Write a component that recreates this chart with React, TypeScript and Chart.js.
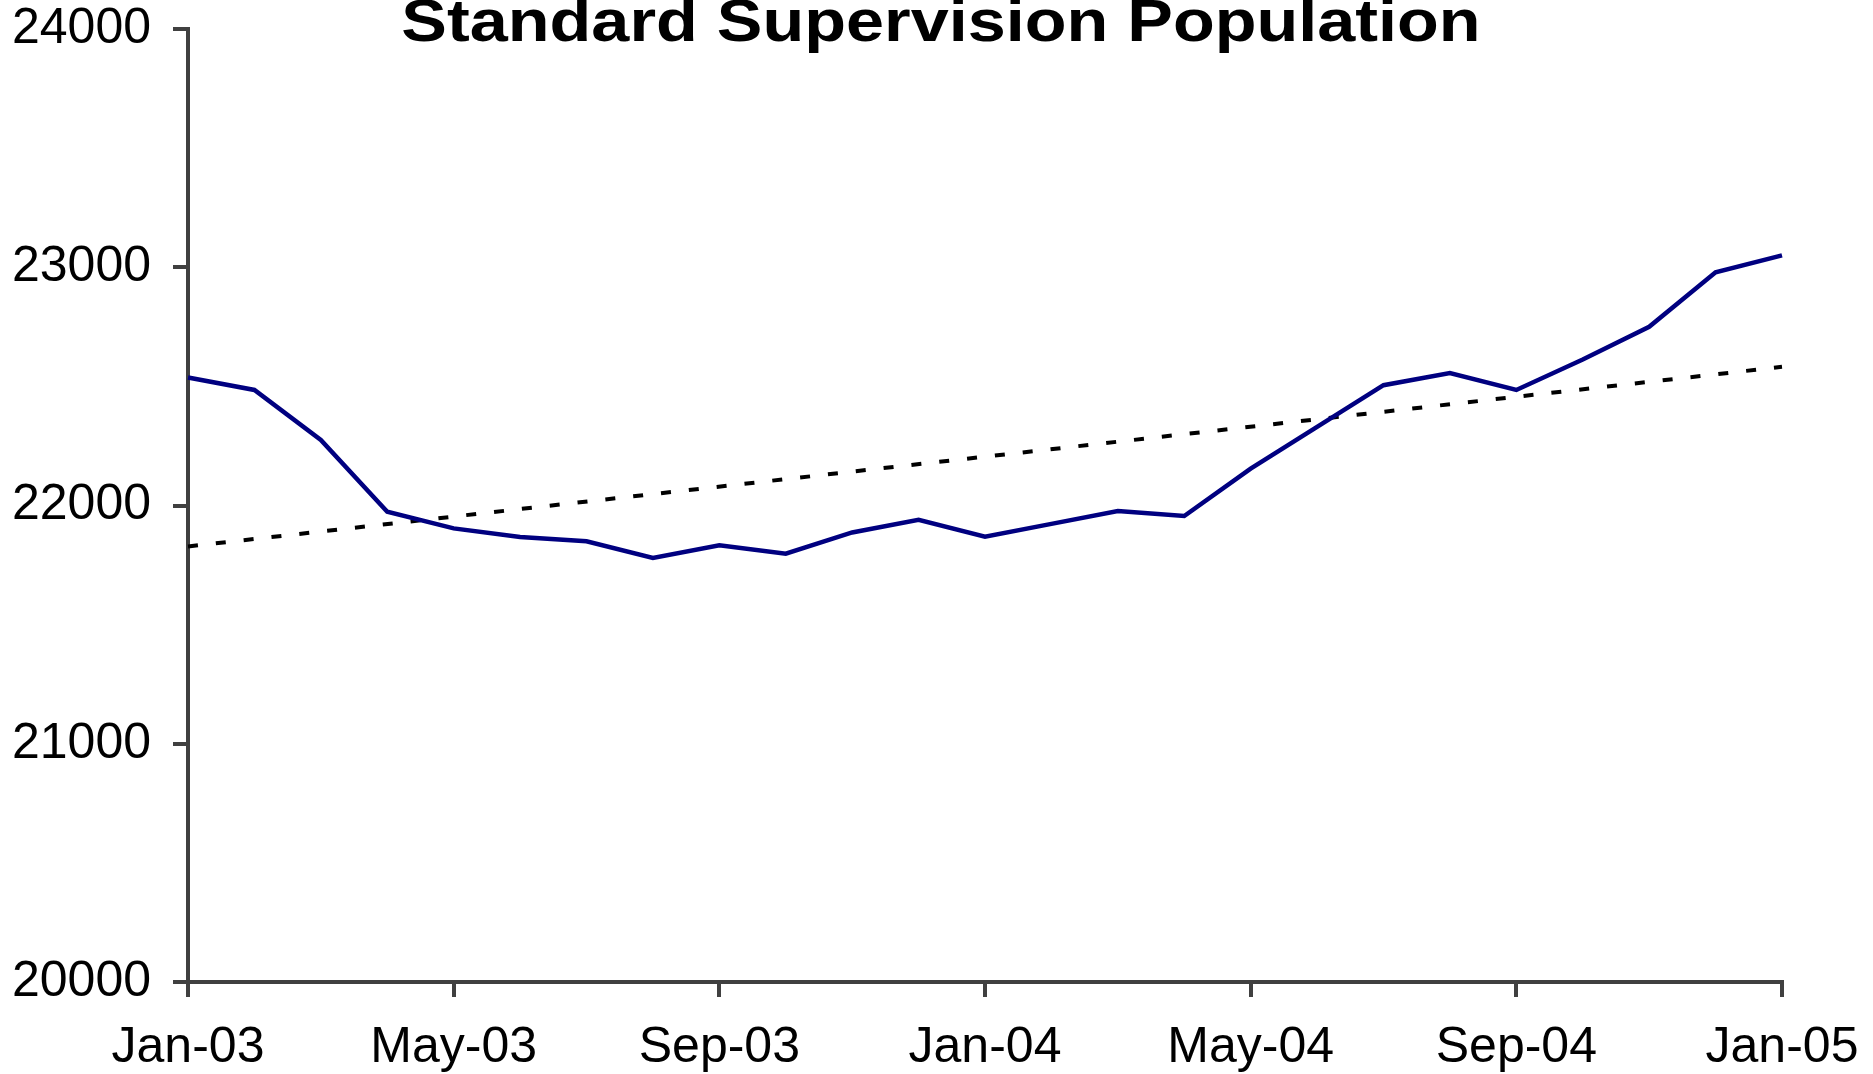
import React, { useEffect, useRef } from 'react';
import { Chart, registerables } from 'chart.js';

Chart.register(...registerables);

const titleText = 'Standard Supervision Population';

const months = [
  'Jan-03', 'Feb-03', 'Mar-03', 'Apr-03', 'May-03', 'Jun-03', 'Jul-03', 'Aug-03', 'Sep-03', 'Oct-03', 'Nov-03', 'Dec-03',
  'Jan-04', 'Feb-04', 'Mar-04', 'Apr-04', 'May-04', 'Jun-04', 'Jul-04', 'Aug-04', 'Sep-04', 'Oct-04', 'Nov-04', 'Dec-04',
  'Jan-05',
];

const population = [
  22537, 22485, 22275, 21974, 21904, 21868, 21850, 21780, 21833, 21798, 21887, 21940,
  21869, 21923, 21977, 21956, 22155, 22330, 22505, 22556, 22485, 22613, 22750, 22979,
  23050,
];

// Linear trend line: value at first and last month
const trendEndpoints = [21828, 22582];

const xTickLabels = ['Jan-03', 'May-03', 'Sep-03', 'Jan-04', 'May-04', 'Sep-04', 'Jan-05'];
const yTickValues = [20000, 21000, 22000, 23000, 24000];

const FONT = '"Liberation Sans", Arial, Helvetica, sans-serif';
const AXIS_COLOR = '#404040';

const titlePlugin = {
  id: 'stretchedTitle',
  afterDraw(chart: any) {
    const ctx = chart.ctx;
    ctx.save();
    ctx.font = `bold 60px ${FONT}`;
    ctx.fillStyle = '#000';
    ctx.textAlign = 'center';
    ctx.textBaseline = 'alphabetic';
    ctx.translate(941, 41);
    ctx.scale(1.14, 1);
    ctx.fillText(titleText, 0, 0);
    ctx.restore();
  },
};

export default function App() {
  const canvasRef = useRef<HTMLCanvasElement | null>(null);

  useEffect(() => {
    const canvas = canvasRef.current;
    if (!canvas) return;
    const last = months.length - 1;
    const trendData = months.map((_, i) => (i === 0 ? trendEndpoints[0] : i === last ? trendEndpoints[1] : null));

    const chart = new Chart(canvas, {
      type: 'line',
      data: {
        labels: months,
        datasets: [
          {
            label: 'Population',
            data: population,
            borderColor: '#000080',
            borderWidth: 4.5,
            pointRadius: 0,
            tension: 0,
            fill: false,
          },
          {
            label: 'Trend',
            data: trendData,
            borderColor: '#000000',
            borderWidth: 4,
            borderDash: [10, 18],
            pointRadius: 0,
            spanGaps: true,
            tension: 0,
            fill: false,
          },
        ],
      },
      options: {
        animation: false,
        responsive: false,
        devicePixelRatio: 1,
        layout: { padding: 0 },
        plugins: {
          legend: { display: false },
          title: { display: false },
          tooltip: { enabled: false },
        },
        scales: {
          x: {
            type: 'category',
            offset: false,
            grid: {
              drawOnChartArea: false,
              drawTicks: true,
              tickLength: 15,
              lineWidth: 4,
              tickWidth: 4,
              color: AXIS_COLOR,
              tickColor: AXIS_COLOR,
            },
            border: { display: true, color: AXIS_COLOR, width: 4 },
            ticks: {
              autoSkip: false,
              maxRotation: 0,
              minRotation: 0,
              padding: 26,
              color: '#000',
              font: { family: FONT, size: 50, lineHeight: 1.0 },
              callback: function (this: any, value: any) {
                const lbl = this.getLabelForValue(value);
                return xTickLabels.includes(lbl) ? lbl : null;
              },
            },
            afterFit: (scale: any) => {
              scale.height = 92;
              scale.paddingLeft = 0;
              scale.paddingRight = 91;
            },
          },
          y: {
            min: yTickValues[0],
            max: yTickValues[yTickValues.length - 1],
            grid: {
              drawOnChartArea: false,
              drawTicks: true,
              tickLength: 15,
              lineWidth: 4,
              tickWidth: 4,
              color: AXIS_COLOR,
              tickColor: AXIS_COLOR,
            },
            border: { display: true, color: AXIS_COLOR, width: 4 },
            ticks: {
              stepSize: yTickValues[1] - yTickValues[0],
              padding: 22,
              color: '#000',
              font: { family: FONT, size: 50 },
              callback: (value: any) => String(value),
            },
            afterFit: (scale: any) => {
              scale.width = 188;
              scale.paddingTop = 29;
              scale.paddingBottom = 0;
            },
          },
        },
      },
      plugins: [titlePlugin],
    });

    return () => chart.destroy();
  }, []);

  return (
    <div style={{ position: 'absolute', left: 0, top: 0, width: 1873, height: 1074, background: '#fff' }}>
      <canvas ref={canvasRef} width={1873} height={1074} style={{ display: 'block', width: 1873, height: 1074 }} />
    </div>
  );
}
